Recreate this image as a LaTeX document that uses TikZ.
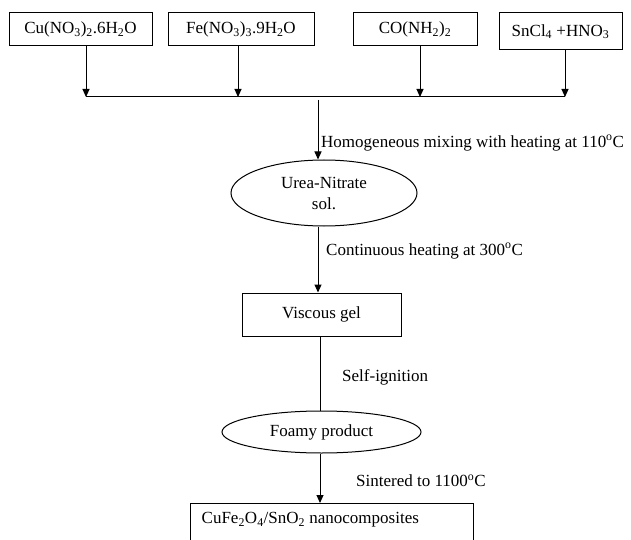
\documentclass[tikz,border=0pt]{standalone}
\usepackage{fontspec}
\setmainfont{Liberation Serif}
\usetikzlibrary{arrows.meta,shapes.geometric}
\begin{document}
\begin{tikzpicture}[x=1pt,y=-1pt,
  every node/.style={font=\fontsize{17}{21}\selectfont},
  box/.style={draw,line width=1pt,rectangle,inner sep=0pt,align=center},
  oval/.style={draw,line width=1pt,ellipse,inner sep=0pt,align=center},
  lbl/.style={anchor=west,inner sep=0pt},
  conn/.style={line width=1pt},
  arr/.style={line width=1pt,-{Triangle[width=7pt,length=8pt]}}]
\clip (0,0) rectangle (631,540);
% source boxes
\node[box,minimum width=143pt,minimum height=33pt] (b1) at (80.5,29.5) {Cu(NO\textsubscript{3})\textsubscript{2}.6H\textsubscript{2}O};
\node[box,minimum width=146pt,minimum height=33pt] (b2) at (241,29.5) {Fe(NO\textsubscript{3})\textsubscript{3}.9H\textsubscript{2}O};
\node[box,minimum width=124pt,minimum height=33pt] (b3) at (415,29.5) {CO(NH\textsubscript{2})\textsubscript{2}};
\node[box,minimum width=123pt,minimum height=37pt] (b4) at (560.5,31.5) {SnCl\textsubscript{4} +HNO\textsubscript{3}};
% junctions on the collecting line
\coordinate (j1) at (86,97);
\coordinate (j2) at (238,97);
\coordinate (j3) at (420,97);
\coordinate (j4) at (565,97);
\coordinate (jc) at (318,97);
\draw[arr] (b1.south -| j1) -- (j1);
\draw[arr] (b2.south -| j2) -- (j2);
\draw[arr] (b3.south -| j3) -- (j3);
\draw[arr] (b4.south -| j4) -- (j4);
\draw[conn] (j1) -- (j4);
% process chain
\node[oval,minimum width=186pt,minimum height=66pt] (e1) at (324,193) {Urea-Nitrate\\sol.};
\node[box,minimum width=159pt,minimum height=43pt] (vg) at (321.5,314.5) {Viscous gel};
\node[oval,minimum width=199pt,minimum height=42pt] (fp) at (321.5,432) {Foamy product};
\node[draw,line width=1pt,rectangle,inner sep=0pt,anchor=north,minimum width=283pt,minimum height=60pt] (fin) at (331.5,503) {};
\node[lbl,anchor=north west] (fintxt) at ([xshift=12pt,yshift=-9pt]fin.north west) {CuFe\textsubscript{2}O\textsubscript{4}/SnO\textsubscript{2} nanocomposites};
\draw[arr] ([yshift=-3pt]jc) -- (jc |- e1.north);
\draw[arr] (e1.south -| jc) -- (vg.north -| jc);
\coordinate (c2) at (320,0);
\draw[conn] (vg.south -| c2) -- (fp.north -| c2);
\draw[arr] (fp.south -| c2) -- (fin.north -| c2);
% labels
\node[lbl] (l1) at (321,143) {Homogeneous mixing with heating at 110\textsuperscript{o}C};
\node[lbl] (l2) at (326,251) {Continuous heating at 300\textsuperscript{o}C};
\node[lbl] (l3) at (342,377) {Self-ignition};
\node[lbl] (l4) at (356,481) {Sintered to 1100\textsuperscript{o}C};
\end{tikzpicture}
\end{document}
